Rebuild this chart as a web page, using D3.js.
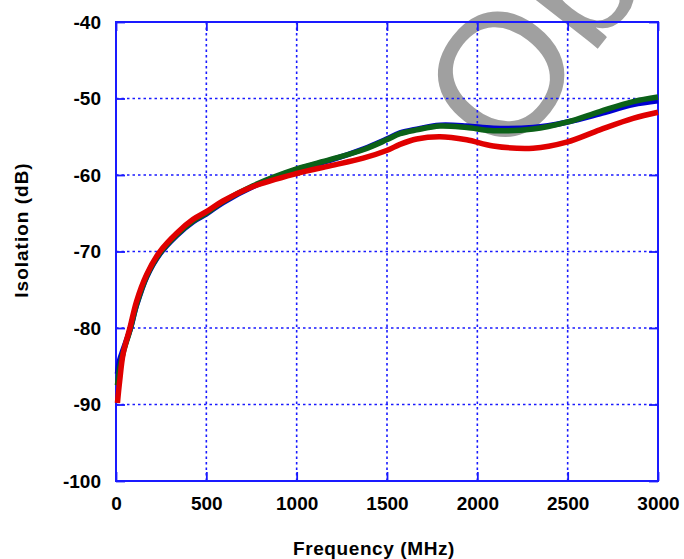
<!DOCTYPE html>
<html>
<head>
<meta charset="utf-8">
<script src="https://cdn.jsdelivr.net/npm/d3@7"></script>
<style>
  body { margin: 0; background: #fff; }
  svg { display: block; }
  text { font-family: "Liberation Sans", Arial, sans-serif; font-weight: bold; fill: #000; }
</style>
</head>
<body>
<div id="chart"></div>
<script>
const margin = { top: 22, right: 26, bottom: 78, left: 116 };
const fullWidth = 684;
const fullHeight = 559;
const width = fullWidth - margin.left - margin.right;
const height = fullHeight - margin.top - margin.bottom;

// frequency points (MHz)
const freq = [8, 20, 40, 77, 114, 170, 243, 336, 427, 500, 592, 759, 1000, 1184, 1368, 1498, 1572, 1664, 1793, 1941, 2088, 2309, 2494, 2678, 2862, 3000];

// isolation (dB)
const blue = [-86.0, -84.2, -82.8, -80.3, -77.0, -73.3, -70.3, -67.9, -66.1, -65.1, -63.6, -61.5, -59.3, -58.1, -56.6, -55.3, -54.5, -54.0, -53.5, -53.6, -53.9, -53.8, -53.1, -52.0, -50.8, -50.3];
const green = [-87.5, -85.3, -83.2, -80.3, -76.9, -73.2, -70.2, -67.8, -66.0, -65.0, -63.5, -61.4, -59.2, -58.0, -56.7, -55.4, -54.6, -54.1, -53.6, -53.8, -54.2, -54.0, -53.1, -51.7, -50.4, -49.8];
const red = [-89.8, -87.0, -83.3, -80.0, -76.5, -73.0, -70.0, -67.6, -65.8, -64.8, -63.4, -61.5, -59.8, -58.8, -57.8, -56.8, -56.0, -55.3, -55.0, -55.4, -56.2, -56.5, -55.7, -54.1, -52.6, -51.8];

const xTicks = [0, 500, 1000, 1500, 2000, 2500, 3000];
const yTicks = [-100, -90, -80, -70, -60, -50, -40];

const series = [
    { values: blue, color: '#0000d0' },
    { values: green, color: '#0b6118' },
    { values: red, color: '#e00000' }
];

const svg = d3.select('#chart').append('svg')
    .attr('width', fullWidth)
    .attr('height', fullHeight);

// watermark behind the plot, runs off the top edge like the original
svg.append('text')
    .attr('transform', 'translate(507,165) rotate(-52)')
    .style('font-family', '"Liberation Sans", Arial, sans-serif')
    .style('font-weight', 'normal')
    .style('font-size', '175px')
    .style('fill', '#a0a0a0')
    .text('Obsolete');

const g = svg.append('g').attr('transform', 'translate(' + margin.left + ',' + margin.top + ')');

const x = d3.scaleLinear().domain([0, 3000]).range([0, width]);
const y = d3.scaleLinear().domain([-100, -40]).range([height, 0]);

// grid
g.append('g').selectAll('line')
    .data(xTicks.slice(1, -1)).join('line')
    .attr('x1', d => x(d)).attr('x2', d => x(d))
    .attr('y1', 0).attr('y2', height)
    .attr('stroke', '#1a1aff').attr('stroke-width', 1.6)
    .attr('stroke-dasharray', '2.5,3');
g.append('g').selectAll('line')
    .data(yTicks.slice(1, -1)).join('line')
    .attr('x1', 0).attr('x2', width)
    .attr('y1', d => y(d)).attr('y2', d => y(d))
    .attr('stroke', '#1a1aff').attr('stroke-width', 1.6)
    .attr('stroke-dasharray', '2.5,3');

// axes with inward ticks
const tickLen = 9;
const fmt = d => String(d);
const xAxisG = g.append('g').attr('transform', 'translate(0,' + height + ')')
    .call(d3.axisBottom(x).tickValues(xTicks).tickSize(-tickLen).tickPadding(16).tickFormat(fmt));
const xTopG = g.append('g')
    .call(d3.axisTop(x).tickValues(xTicks).tickSize(-tickLen).tickFormat(''));
const yAxisG = g.append('g')
    .call(d3.axisLeft(y).tickValues(yTicks).tickSize(-tickLen).tickPadding(15).tickFormat(fmt));
const yRightG = g.append('g').attr('transform', 'translate(' + width + ',0)')
    .call(d3.axisRight(y).tickValues(yTicks).tickSize(-tickLen).tickFormat(''));

[xAxisG, xTopG, yAxisG, yRightG].forEach(a => {
    a.select('.domain').remove();
    a.selectAll('.tick line').attr('stroke', '#1a1aff').attr('stroke-width', 1.8);
    a.selectAll('.tick text').style('font-size', '19px').style('font-family', '"Liberation Sans", Arial, sans-serif').style('font-weight', 'bold').attr('fill', '#000');
});

// frame
g.append('rect')
    .attr('width', width).attr('height', height)
    .attr('fill', 'none').attr('stroke', '#1a1aff').attr('stroke-width', 2);

// curves
const line = d3.line()
    .x((d, i) => x(freq[i]))
    .y(d => y(d))
    .curve(d3.curveCatmullRom.alpha(0.5));

g.selectAll('path.curve')
    .data(series).join('path')
    .attr('class', 'curve')
    .attr('d', d => line(d.values))
    .attr('fill', 'none')
    .attr('stroke', d => d.color)
    .attr('stroke-width', 5.5)
    .attr('stroke-linejoin', 'round');

// axis titles
svg.append('text')
    .attr('x', 374).attr('y', 555)
    .attr('text-anchor', 'middle')
    .style('font-size', '19px')
    .style('letter-spacing', '0.6px')
    .text('Frequency (MHz)');

svg.append('text')
    .attr('transform', 'translate(28,230) rotate(-90)')
    .attr('text-anchor', 'middle')
    .style('font-size', '19px')
    .style('letter-spacing', '1px')
    .text('Isolation (dB)');
</script>
</body>
</html>
